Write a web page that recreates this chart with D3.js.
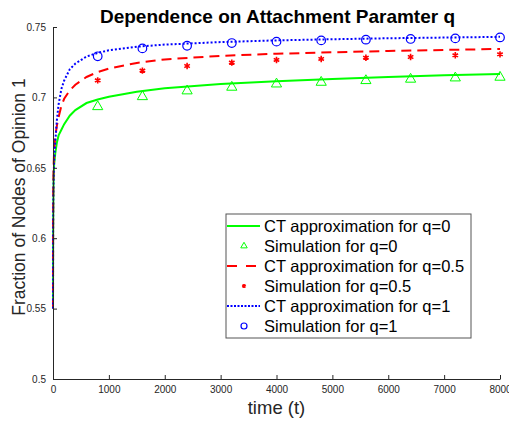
<!DOCTYPE html>
<html>
<head>
<meta charset="utf-8">
<script src="https://cdnjs.cloudflare.com/ajax/libs/d3/7.8.5/d3.min.js"></script>
<style>
  body { margin: 0; background: #fff; }
  text { font-family: "Liberation Sans", Arial, Helvetica, sans-serif; }
</style>
</head>
<body>
<div id="chart"></div>
<script>
var margin = { top: 27, left: 53, right: 9, bottom: 42 },
    width = 509 - margin.left - margin.right,
    height = 421 - margin.top - margin.bottom;

// time grid for the CT curves
var curveT = [0, 2, 5, 10, 20, 40, 70, 100, 150, 200, 300, 400, 600, 800, 1000, 1500, 2000, 3000, 4000, 5000, 6000, 7000, 8000];
var ctQ0   = [0.55, 0.60, 0.62, 0.64, 0.652, 0.66, 0.668, 0.673, 0.677, 0.681, 0.687, 0.691, 0.696, 0.6985, 0.7005, 0.704, 0.7065, 0.7095, 0.7115, 0.713, 0.7145, 0.7157, 0.7167];
var ctQ05  = [0.55, 0.61, 0.635, 0.65, 0.662, 0.672, 0.68, 0.686, 0.694, 0.699, 0.705, 0.709, 0.7145, 0.718, 0.7205, 0.7245, 0.727, 0.7295, 0.731, 0.732, 0.733, 0.7337, 0.7344];
var ctQ1   = [0.55, 0.60, 0.625, 0.64, 0.655, 0.668, 0.684, 0.695, 0.706, 0.712, 0.72, 0.724, 0.729, 0.7316, 0.7335, 0.736, 0.7375, 0.7393, 0.7405, 0.7413, 0.742, 0.7425, 0.743];

// simulation samples
var simT   = [800, 1600, 2400, 3200, 4000, 4800, 5600, 6400, 7200, 8000];
var simQ0  = [0.6934, 0.7005, 0.7046, 0.7072, 0.7095, 0.7107, 0.7119, 0.7129, 0.7138, 0.7143];
var simQ05 = [0.7121, 0.719, 0.7223, 0.7247, 0.7266, 0.7273, 0.7282, 0.7287, 0.7299, 0.7306];
var simQ1  = [0.7292, 0.7348, 0.7367, 0.7386, 0.7396, 0.7405, 0.741, 0.7415, 0.7419, 0.7426];

var xTicks = [0, 1000, 2000, 3000, 4000, 5000, 6000, 7000, 8000];
var yTicks = [0.5, 0.55, 0.6, 0.65, 0.7, 0.75];

var legendLabels = ["CT approximation for q=0", "Simulation for q=0", "CT approximation for q=0.5",
                    "Simulation for q=0.5", "CT approximation for q=1", "Simulation for q=1"];

var green = "#00ff00", red = "#ff0000", blue = "#0000ff", axisColor = "#262626";

var svg = d3.select("#chart")
  .append("svg")
  .attr("width", 509)
  .attr("height", 421)
  .append("g")
  .attr("transform", "translate(" + margin.left + "," + margin.top + ")");

var x = d3.scaleLinear().domain([0, 8000]).range([0, width]);
var y = d3.scaleLinear().domain([0.5, 0.75]).range([height, 0]);

// curves
var line = d3.line()
  .x(function(d) { return x(d[0]); })
  .y(function(d) { return y(d[1]); });

function pairs(a, b) { return a.map(function(v, i) { return [v, b[i]]; }); }

svg.append("path").datum(pairs(curveT, ctQ0))
  .attr("d", line).attr("fill", "none").attr("stroke", green).attr("stroke-width", 2);
svg.append("path").datum(pairs(curveT, ctQ05))
  .attr("d", line).attr("fill", "none").attr("stroke", red).attr("stroke-width", 2)
  .attr("stroke-dasharray", "10,6");
svg.append("path").datum(pairs(curveT, ctQ1))
  .attr("d", line).attr("fill", "none").attr("stroke", blue).attr("stroke-width", 2)
  .attr("stroke-dasharray", "2,2");

// markers
var tri = d3.symbol().type(d3.symbolTriangle);
var star = d3.symbol().type(d3.symbolAsterisk);

svg.selectAll(".tri").data(pairs(simT, simQ0)).enter().append("path")
  .attr("class", "tri")
  .attr("d", tri.size(45)())
  .attr("transform", function(d) { return "translate(" + x(d[0]) + "," + y(d[1]) + ")"; })
  .attr("fill", "none").attr("stroke", green).attr("stroke-width", 1);

svg.selectAll(".star").data(pairs(simT, simQ05)).enter().append("path")
  .attr("class", "star")
  .attr("d", star.size(28)())
  .attr("transform", function(d) { return "translate(" + x(d[0]) + "," + y(d[1]) + ")"; })
  .attr("fill", "none").attr("stroke", red).attr("stroke-width", 1.6);

svg.selectAll(".circ").data(pairs(simT, simQ1)).enter().append("circle")
  .attr("class", "circ")
  .attr("cx", function(d) { return x(d[0]); })
  .attr("cy", function(d) { return y(d[1]); })
  .attr("r", 4.3)
  .attr("fill", "none").attr("stroke", blue).attr("stroke-width", 1.2);

// axes (ticks point inward, like matlab)
var xAxis = svg.append("g")
  .attr("transform", "translate(0," + height + ")")
  .call(d3.axisBottom(x).tickValues(xTicks).tickSizeInner(-4).tickSizeOuter(0).tickPadding(7)
    .tickFormat(d3.format("d")));
var yAxis = svg.append("g")
  .call(d3.axisLeft(y).tickValues(yTicks).tickSizeInner(-4).tickSizeOuter(0).tickPadding(7)
    .tickFormat(function(d) { return d3.format("")(+d.toFixed(2)); }));

[xAxis, yAxis].forEach(function(a) {
  a.select(".domain").attr("stroke", axisColor);
  a.selectAll(".tick line").attr("stroke", axisColor);
  a.selectAll(".tick text").attr("fill", axisColor).style("font-size", "10px")
    .style("font-family", "'Liberation Sans', Arial, sans-serif");
});

// labels
svg.append("text")
  .attr("x", width / 2 + 1).attr("y", -4)
  .attr("text-anchor", "middle")
  .style("font-size", "19px").style("font-weight", "bold")
  .text("Dependence on Attachment Paramter q");

svg.append("text")
  .attr("x", width / 2).attr("y", height + 35)
  .attr("text-anchor", "middle").attr("fill", axisColor)
  .style("font-size", "18.5px")
  .text("time (t)");

svg.append("text")
  .attr("transform", "translate(-28," + (height / 2 - 6) + ") rotate(-90)")
  .attr("text-anchor", "middle").attr("fill", axisColor)
  .style("font-size", "17.5px")
  .text("Fraction of Nodes of Opinion 1");

// legend
var legend = svg.append("g").attr("transform", "translate(" + (226 - margin.left) + "," + (214 - margin.top) + ")");
legend.append("rect")
  .attr("width", 245).attr("height", 124)
  .attr("fill", "#fff").attr("stroke", "#555").attr("stroke-width", 1);

var rows = legend.selectAll(".row").data(legendLabels).enter().append("g")
  .attr("transform", function(d, i) { return "translate(0," + (12 + i * 20) + ")"; });

rows.append("text")
  .attr("x", 38).attr("dy", "0.35em")
  .style("font-size", "16.5px").attr("fill", "#000")
  .text(function(d) { return d; });

legend.append("line").attr("x1", 1).attr("x2", 34).attr("y1", 12).attr("y2", 12)
  .attr("stroke", green).attr("stroke-width", 2);
legend.append("line").attr("x1", 1).attr("x2", 34).attr("y1", 52).attr("y2", 52)
  .attr("stroke", red).attr("stroke-width", 2).attr("stroke-dasharray", "10,9");
legend.append("line").attr("x1", 1).attr("x2", 34).attr("y1", 92).attr("y2", 92)
  .attr("stroke", blue).attr("stroke-width", 2).attr("stroke-dasharray", "2,1.5");

legend.append("path").attr("d", tri.size(18)()).attr("transform", "translate(18,32)")
  .attr("fill", "none").attr("stroke", green).attr("stroke-width", 1);
legend.append("path").attr("d", star.size(12)()).attr("transform", "translate(18,72)")
  .attr("fill", "none").attr("stroke", red).attr("stroke-width", 1.5);
legend.append("circle").attr("cx", 18).attr("cy", 112).attr("r", 3)
  .attr("fill", "none").attr("stroke", blue).attr("stroke-width", 1.2);
</script>
</body>
</html>
